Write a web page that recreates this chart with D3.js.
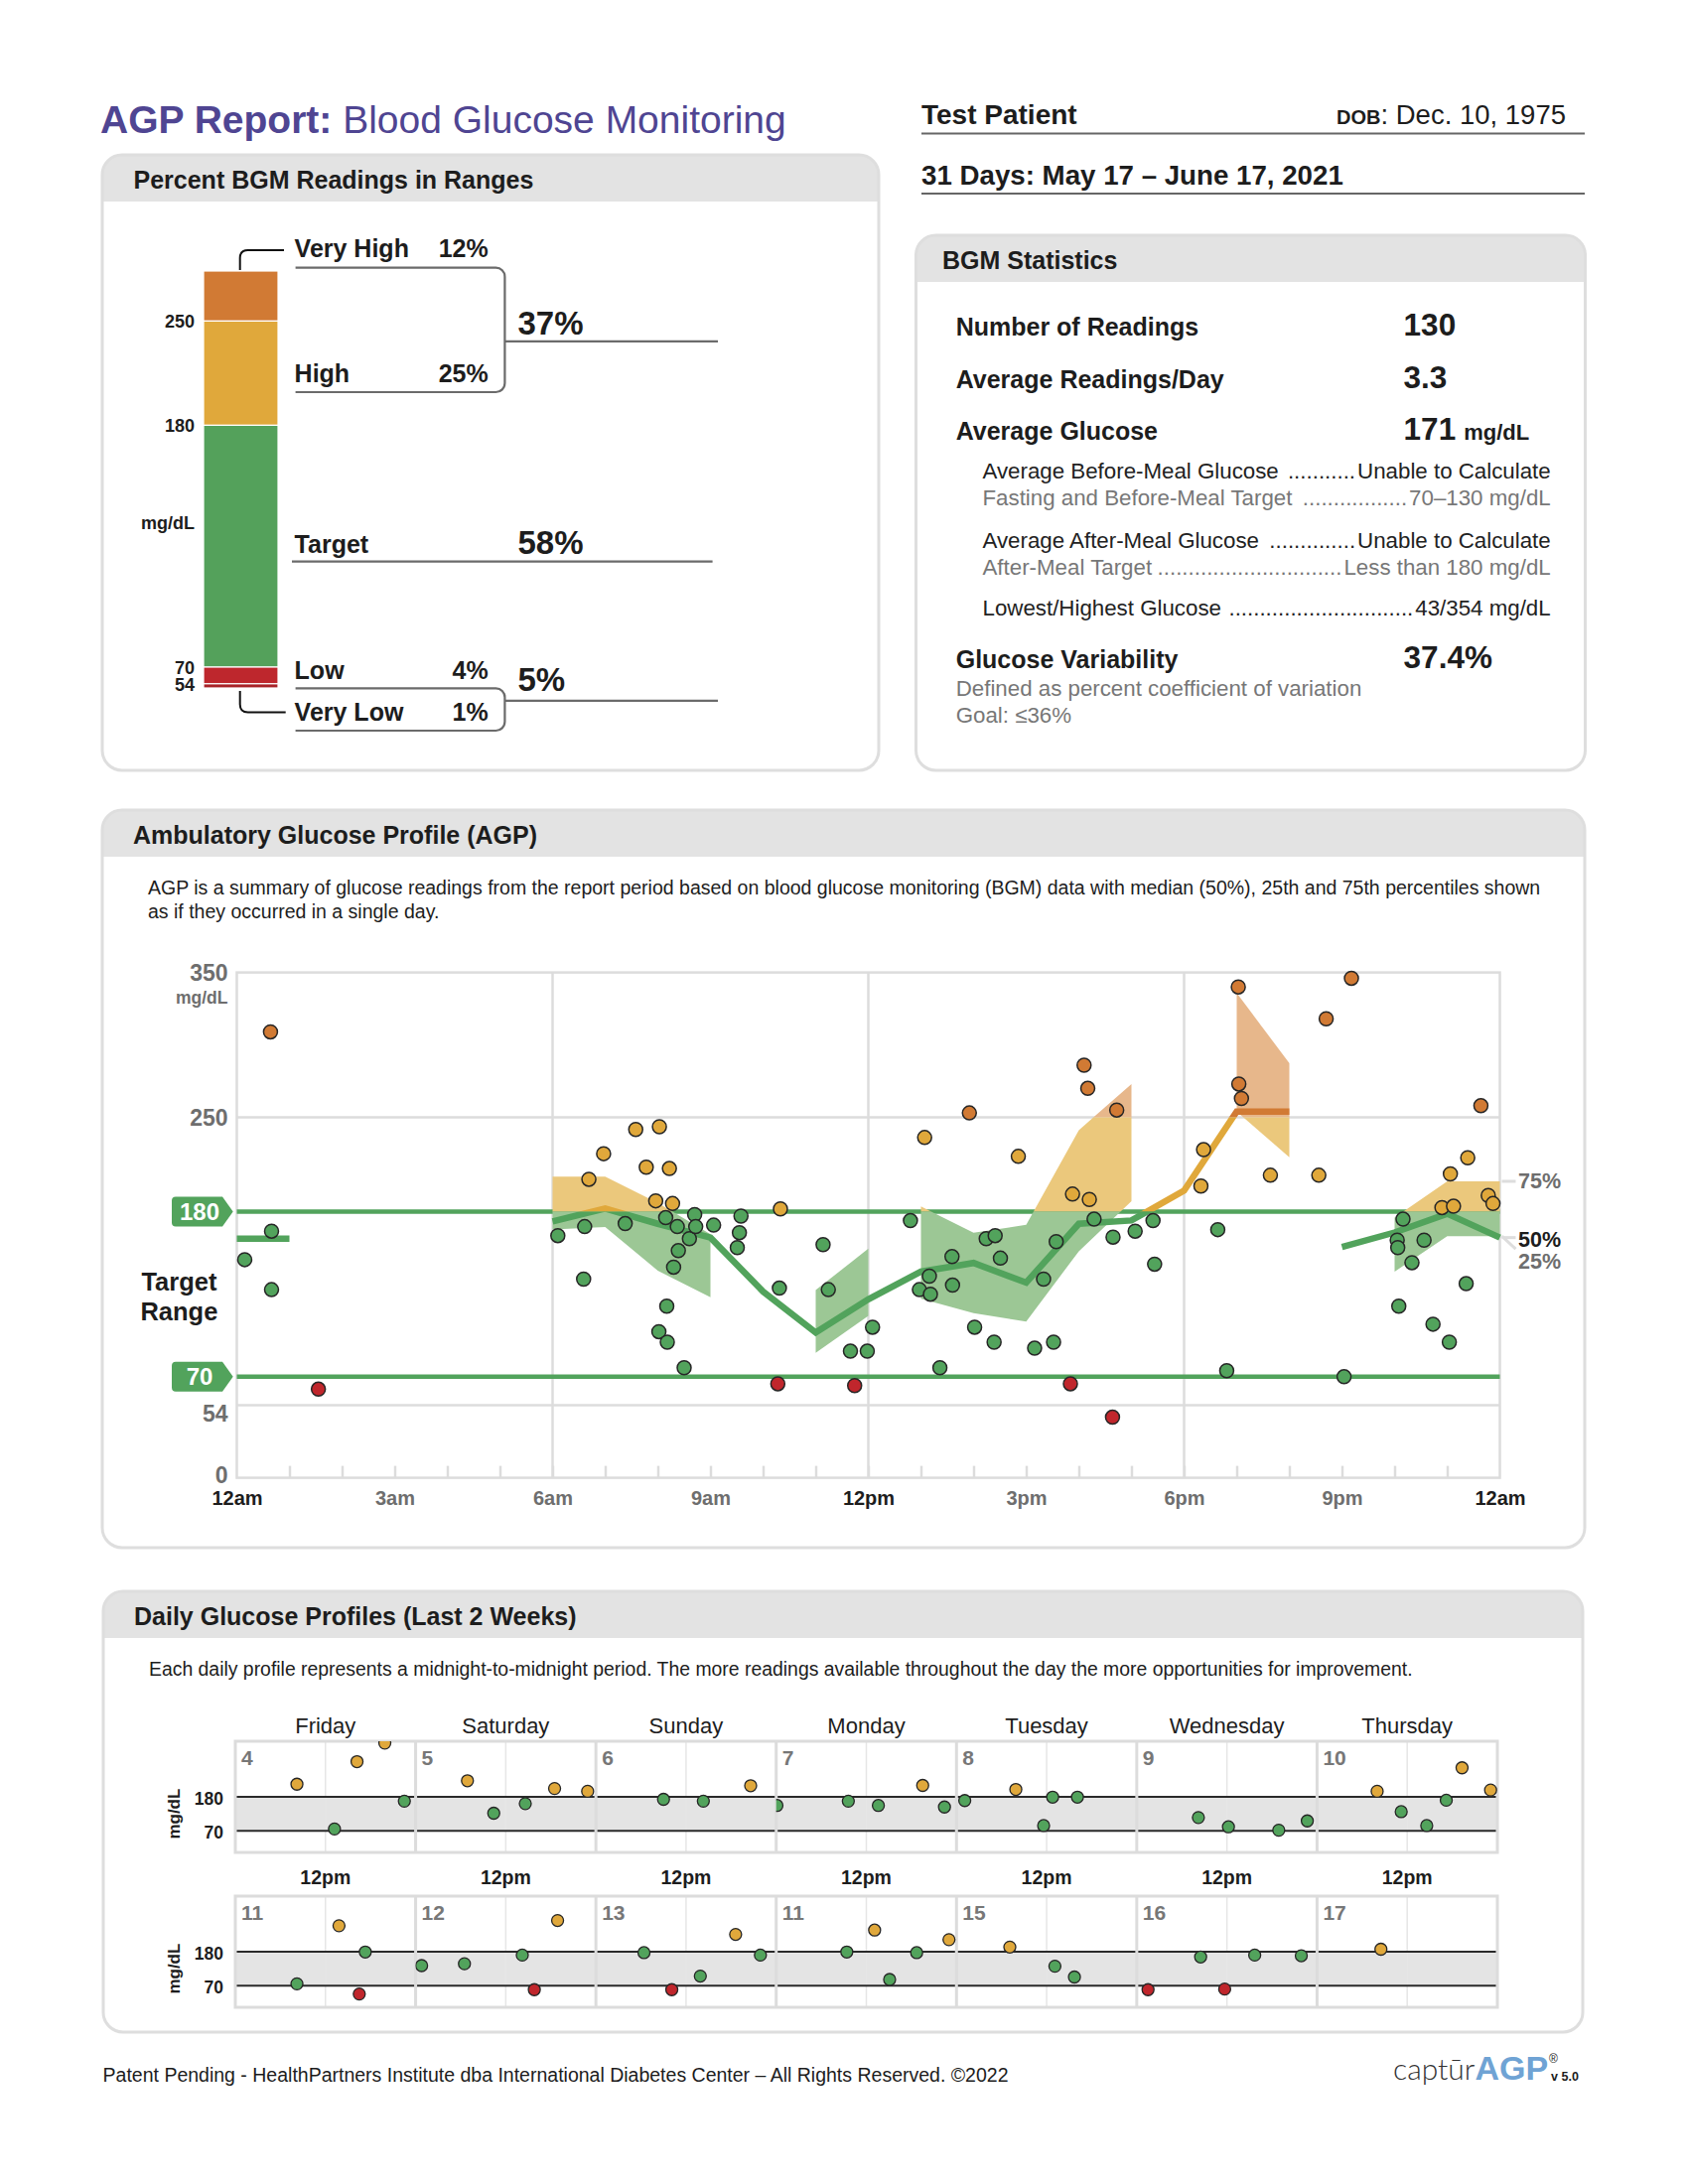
<!DOCTYPE html>
<html>
<head>
<meta charset="utf-8">
<script src="https://cdn.jsdelivr.net/npm/d3@7"></script>
<style>
  body { margin: 0; background: #fff; }
  svg { display: block; }
</style>
</head>
<body>
<script>
// ---------- data ----------
const rangeNames = ['Very High', 'High', 'Target', 'Low', 'Very Low'];
const rangePercents = [12, 25, 58, 4, 1];
const rangeLimits = ['250', '180', '70', '54'];

const statLabels = ['Number of Readings', 'Average Readings/Day', 'Average Glucose'];
const statValues = ['130', '3.3', '171'];
const detailLabels = ['Average Before-Meal Glucose', 'Fasting and Before-Meal Target', 'Average After-Meal Glucose', 'After-Meal Target', 'Lowest/Highest Glucose'];
const detailValues = ['Unable to Calculate', '70\u2013130 mg/dL', 'Unable to Calculate', 'Less than 180 mg/dL', '43/354 mg/dL'];
const variability = '37.4%';

// AGP: readings as if in one day (hour of day, mg/dL)
const agpTime = [0.64, 0.15, 0.66, 0.66, 1.55, 6.10, 6.59, 6.61, 6.69, 6.97, 7.38, 7.58, 7.78, 7.96, 8.03, 8.22, 8.28, 8.15, 8.37, 8.60,
  8.39, 8.30, 8.17, 8.02, 8.18, 8.50, 8.70, 8.72, 9.06, 9.58, 9.55, 9.51, 10.33, 10.31, 10.28, 11.14, 11.24, 11.74, 11.66, 11.98,
  12.08, 13.07, 13.92, 12.80, 13.16, 12.97, 13.18, 13.59, 13.60, 14.24, 14.41, 14.51, 14.02, 14.39, 13.36, 14.85, 15.33, 15.57, 15.16, 15.52,
  15.84, 16.10, 16.17, 16.72, 15.88, 16.20, 16.29, 16.65, 17.07, 17.41, 17.44, 16.64, 19.03, 21.18, 20.70, 19.04, 19.09, 23.64, 18.37, 18.32,
  19.64, 20.56, 23.39, 23.06, 23.78, 23.87, 22.90, 23.12, 18.64, 18.81, 21.04, 22.16, 22.05, 22.06, 22.56, 22.33, 23.36, 22.08, 22.73, 23.04];
const agpGlucose = [309, 148, 167, 128, 63, 164, 135, 170, 204, 223, 172, 241, 213, 188, 243, 212, 186, 176, 170, 162,
  154, 143, 117, 100, 93, 76, 178, 170, 171, 177, 166, 156, 182, 129, 66, 158, 128, 65, 87, 87,
  103, 235, 253, 174, 137, 128, 125, 150, 131, 162, 164, 149, 103, 93, 76, 221, 135, 160, 89, 93,
  66, 286, 270, 255, 193, 189, 175, 163, 167, 174, 145, 45, 340, 346, 318, 273, 263, 258, 226, 199,
  207, 207, 220, 208, 192, 186, 183, 184, 168, 74, 70, 175, 161, 156, 161, 146, 132, 117, 105, 93];

// hourly percentiles (index = hour 0..24), drawn over the listed hour spans
const medianValues = [162, 162, null, null, null, null, 173.5, 182.3, 171.9, 162.7, 126.7, 99.5, 121.6, 140, 145.8, 132.7, 171.9, 174.1, 195.6, 254, 254, 156.5, 166.1, 178.6, 162.7];
const p75Values = [null, null, null, null, null, null, 206, 206, 186.5, 164.9, null, 127.7, 155.3, 183.8, 165.9, 171.2, 240.5, 273, null, 335.9, 287.3, null, 176, 202.5, 202.5];
const p25Values = [null, null, null, null, null, null, 168.1, 169.7, 140.7, 122.9, null, 85.9, 110.6, 121.9, 112.3, 106.8, 153.6, 187.7, null, 254, 220.3, null, 140, 163.7, 163.7];
const medianSpans = [[0, 1], [6, 20], [21, 24]];
const bandSpans = [[6, 9], [11, 12], [13, 17], [19, 20], [22, 24]];
const hourLabels = ['12am', '3am', '6am', '9am', '12pm', '3pm', '6pm', '9pm', '12am'];

// daily profiles
const weekdayNames = ['Friday', 'Saturday', 'Sunday', 'Monday', 'Tuesday', 'Wednesday', 'Thursday'];
const dayNumbers = ['4', '5', '6', '7', '8', '9', '10', '11', '12', '13', '11', '15', '16', '17'];
const dailyDay = [0, 0, 0, 0, 0, 1, 1, 1, 1, 1, 2, 2, 2, 3, 3, 3, 3, 3, 4, 4, 4, 4, 4, 5, 5, 5, 5, 6, 6, 6, 6, 6, 6,
  7, 7, 7, 7, 8, 8, 8, 8, 8, 9, 9, 9, 9, 9, 10, 10, 10, 10, 10, 11, 11, 11, 12, 12, 12, 12, 12, 13];
const dailyTime = [8.2, 13.2, 16.2, 19.9, 22.5, 6.9, 10.4, 14.6, 18.5, 22.9, 9.0, 14.3, 20.6, 0.1, 9.6, 13.6, 19.5, 22.4,
  1.1, 7.9, 11.6, 12.8, 16.1, 8.2, 12.2, 18.9, 22.7, 8.0, 11.2, 14.6, 17.2, 19.3, 23.1,
  8.2, 13.8, 17.3, 16.5, 0.8, 6.5, 14.2, 15.8, 18.9, 6.4, 10.1, 13.9, 18.6, 21.9, 9.4, 13.1, 15.1, 18.7, 23.0,
  7.1, 13.1, 15.7, 1.5, 8.5, 11.7, 15.7, 21.9, 8.5];
const dailyGlucose = [221, 76, 294, 354, 166, 232, 127, 158, 207, 198, 172, 166, 216, 152, 166, 152, 217, 147,
  168, 204, 87, 179, 179, 113, 83, 72, 102, 198, 132, 87, 169, 274, 202,
  76, 264, 179, 43, 135, 141, 169, 57, 281, 177, 57, 101, 236, 169, 179, 250, 90, 177, 219,
  195, 133, 98, 57, 163, 59, 169, 167, 188];

// ---------- colours ----------
const green = '#52a35c', yellow = '#e0a83b', orange = '#d17a34', red = '#c0262c';
const rangeColors = [orange, yellow, '#54a15b', '#be272d', '#a82228'];
const bandColors = ['#e7b78b', '#ebc87c', '#9cc795'];
const ink = '#1d1d1d', grey = '#6e6e6e', rule = '#dcdcdc';

const svg = d3.select('body').append('svg')
  .attr('width', 1700).attr('height', 2200)
  .attr('font-family', '"Liberation Sans", Arial, Helvetica, sans-serif');
svg.append('rect').attr('width', 1700).attr('height', 2200).attr('fill', '#fff');
const defs = svg.append('defs');

function card(x, y, w, h, title, tx) {
  const r = 20, hh = 47;
  svg.append('rect').attr('x', x).attr('y', y).attr('width', w).attr('height', h).attr('rx', r).attr('fill', '#fff');
  svg.append('path')
    .attr('d', `M${x},${y + hh}V${y + r}A${r},${r} 0 0 1 ${x + r},${y}H${x + w - r}A${r},${r} 0 0 1 ${x + w},${y + r}V${y + hh}Z`)
    .attr('fill', '#e3e3e3');
  svg.append('rect').attr('x', x).attr('y', y).attr('width', w).attr('height', h).attr('rx', r)
    .attr('fill', 'none').attr('stroke', '#dedede').attr('stroke-width', 3);
  svg.append('text').attr('x', x + tx).attr('y', y + 34)
    .attr('font-size', 25).attr('font-weight', 'bold').attr('fill', ink).text(title);
}

// ---------- header ----------
const title = svg.append('text').attr('x', 101).attr('y', 133.5).attr('font-size', 39).attr('fill', '#4f4592');
title.append('tspan').attr('font-weight', 'bold').text('AGP Report: ');
title.append('tspan').text('Blood Glucose Monitoring');

svg.append('text').attr('x', 928).attr('y', 124.5).attr('font-size', 28).attr('font-weight', 'bold').attr('fill', ink).text('Test Patient');
const dob = svg.append('text').attr('x', 1577).attr('y', 124.5).attr('text-anchor', 'end').attr('font-size', 27.5).attr('fill', ink);
dob.append('tspan').attr('font-size', 20).attr('font-weight', 'bold').text('DOB');
dob.append('tspan').text(': Dec. 10, 1975');
svg.append('line').attr('x1', 928).attr('x2', 1596).attr('y1', 134.5).attr('y2', 134.5).attr('stroke', '#666').attr('stroke-width', 2);
svg.append('text').attr('x', 928).attr('y', 185.5).attr('font-size', 27.7).attr('font-weight', 'bold').attr('fill', ink)
  .text('31 Days: May 17 \u2013 June 17, 2021');
svg.append('line').attr('x1', 928).attr('x2', 1596).attr('y1', 195).attr('y2', 195).attr('stroke', '#666').attr('stroke-width', 2);

// ---------- percent in ranges ----------
card(103, 156, 782, 620, 'Percent BGM Readings in Ranges', 31.5);
const barY = d3.scaleLinear().domain([0, 100]).range([693, 273]);
let acc = 100;
const segs = rangePercents.map(p => { const s = { top: acc, bottom: acc - p }; acc -= p; return s; });
svg.append('g').selectAll('rect').data(segs).join('rect')
  .attr('x', 205).attr('width', 75)
  .attr('y', d => barY(d.top)).attr('height', d => barY(d.bottom) - barY(d.top))
  .attr('fill', (d, i) => rangeColors[i]).attr('stroke', '#fff').attr('stroke-width', 1.2);
svg.append('g').attr('font-size', 18).attr('font-weight', 'bold').attr('fill', ink).attr('text-anchor', 'end')
  .selectAll('text').data(rangeLimits).join('text')
  .attr('x', 196).attr('y', (d, i) => barY(segs[i].bottom) + 7).text(d => d);
svg.append('text').attr('x', 196).attr('y', 533).attr('text-anchor', 'end').attr('font-size', 18).attr('font-weight', 'bold')
  .attr('fill', ink).text('mg/dL');

const labelBase = [258.6, 384.5, 556.8, 683.5, 725.5];
const labelRule = [269.7, 395, 565.7, 693.3, 736];
const lab = svg.append('g').attr('font-size', 25).attr('font-weight', 'bold').attr('fill', ink);
rangeNames.forEach((n, i) => {
  lab.append('text').attr('x', 296.6).attr('y', labelBase[i]).text(n);
  if (i !== 2) lab.append('text').attr('x', 491.7).attr('y', labelBase[i]).attr('text-anchor', 'end').text(rangePercents[i] + '%');
});
const rl = svg.append('g').attr('fill', 'none').attr('stroke', '#6b6b6b').attr('stroke-width', 2.2);
function bracket(y1, y2) {
  const xr = 508.4, r = 9, xl = 297.6;
  return `M${xl},${y1}H${xr - r}A${r},${r} 0 0 1 ${xr},${y1 + r}V${y2 - r}A${r},${r} 0 0 1 ${xr - r},${y2}H${xl}`;
}
rl.append('path').attr('d', bracket(labelRule[0], labelRule[1]));
rl.append('path').attr('d', bracket(labelRule[3], labelRule[4]));
rl.append('line').attr('x1', 508.4).attr('x2', 723).attr('y1', 343.8).attr('y2', 343.8);
rl.append('line').attr('x1', 294).attr('x2', 717.6).attr('y1', labelRule[2]).attr('y2', labelRule[2]);
rl.append('line').attr('x1', 508.4).attr('x2', 723).attr('y1', 705.9).attr('y2', 705.9);
const big = svg.append('g').attr('font-size', 33).attr('font-weight', 'bold').attr('fill', ink);
big.append('text').attr('x', 521.5).attr('y', 336.7).text((rangePercents[0] + rangePercents[1]) + '%');
big.append('text').attr('x', 521.5).attr('y', 557.7).text(rangePercents[2] + '%');
big.append('text').attr('x', 521.5).attr('y', 696).text((rangePercents[3] + rangePercents[4]) + '%');
const conn = svg.append('g').attr('fill', 'none').attr('stroke', '#111').attr('stroke-width', 2);
conn.append('path').attr('d', `M241.7,${barY(100) - 1}V260Q241.7,252 249.7,252H286`);
conn.append('path').attr('d', `M241.7,${barY(0) + 3}V709.5Q241.7,717.5 249.7,717.5H287.7`);

// ---------- BGM statistics ----------
card(922.5, 237, 674, 539, 'BGM Statistics', 26.5);
const statBase = [338, 391, 442.5];
statLabels.forEach((s, i) => {
  svg.append('text').attr('x', 962.7).attr('y', statBase[i]).attr('font-size', 25).attr('font-weight', 'bold').attr('fill', ink).text(s);
  const v = svg.append('text').attr('x', 1413.6).attr('y', statBase[i]).attr('font-size', 31.5).attr('font-weight', 'bold').attr('fill', ink);
  v.append('tspan').text(statValues[i]);
  if (i === 2) v.append('tspan').attr('font-size', 22).attr('dx', 8).text('mg/dL');
});
function leader(y, label, value, color) {
  const g = svg.append('g').attr('font-size', 22.3).attr('fill', color);
  const a = g.append('text').attr('x', 989.5).attr('y', y).text(label);
  const b = g.append('text').attr('x', 1561.7).attr('y', y).attr('text-anchor', 'end').text(value);
  const x0 = 989.5 + a.node().getComputedTextLength() + 5;
  const x1 = 1561.7 - b.node().getComputedTextLength() - 2;
  const probe = g.append('text').text('..........');
  const dw = probe.node().getComputedTextLength() / 10;
  probe.remove();
  g.append('text').attr('x', x1).attr('y', y).attr('text-anchor', 'end')
    .text('.'.repeat(Math.max(0, Math.floor((x1 - x0) / dw))));
}
const detailBase = [481.8, 509.4, 551.8, 579, 620];
detailLabels.forEach((d, i) => leader(detailBase[i], d, detailValues[i], i === 1 || i === 3 ? '#777' : '#222'));
svg.append('text').attr('x', 962.7).attr('y', 672.8).attr('font-size', 25).attr('font-weight', 'bold').attr('fill', ink).text('Glucose Variability');
svg.append('text').attr('x', 1413.6).attr('y', 672.8).attr('font-size', 31.5).attr('font-weight', 'bold').attr('fill', ink).text(variability);
svg.append('text').attr('x', 962.7).attr('y', 701.4).attr('font-size', 22.3).attr('fill', '#777').text('Defined as percent coefficient of variation');
svg.append('text').attr('x', 962.7).attr('y', 728.2).attr('font-size', 22.3).attr('fill', '#777').text('Goal: \u226436%');

// ---------- AGP ----------
card(103, 816, 1493, 743, 'Ambulatory Glucose Profile (AGP)', 31);
svg.append('text').attr('x', 149).attr('y', 901).attr('font-size', 19.5).attr('fill', ink)
  .text('AGP is a summary of glucose readings from the report period based on blood glucose monitoring (BGM) data with median (50%), 25th and 75th percentiles shown');
svg.append('text').attr('x', 149).attr('y', 925).attr('font-size', 19.5).attr('fill', ink).text('as if they occurred in a single day.');

const x = d3.scaleLinear().domain([0, 24]).range([238.5, 1510.5]);
const y = d3.scaleLinear().domain([0, 54, 70, 180, 250, 350]).range([1488.6, 1415.4, 1386.8, 1220.5, 1125.5, 979.6]);
const plot = svg.append('g');

plot.append('g').selectAll('line').data([250, 54]).join('line')
  .attr('x1', x(0)).attr('x2', x(24)).attr('y1', d => y(d)).attr('y2', d => y(d))
  .attr('stroke', rule).attr('stroke-width', 2.5);
plot.append('g').selectAll('line').data([6, 12, 18]).join('line')
  .attr('x1', d => x(d)).attr('x2', d => x(d)).attr('y1', y(350)).attr('y2', y(0))
  .attr('stroke', rule).attr('stroke-width', 2.5);
plot.append('g').attr('transform', `translate(0,${y(0)})`)
  .call(d3.axisTop(x).tickValues(d3.range(1, 24)).tickSize(12).tickFormat(''))
  .call(g => g.select('.domain').remove())
  .call(g => g.selectAll('line').attr('stroke', rule).attr('stroke-width', 2.5));
plot.append('rect').attr('x', x(0)).attr('y', y(350)).attr('width', x(24) - x(0)).attr('height', y(0) - y(350))
  .attr('fill', 'none').attr('stroke', rule).attr('stroke-width', 2.5);

plot.append('g').attr('transform', `translate(0,${y(0)})`)
  .call(d3.axisBottom(x).tickValues(d3.range(0, 25, 3)).tickSize(0).tickPadding(13).tickFormat((d, i) => hourLabels[i]))
  .call(g => g.select('.domain').remove())
  .call(g => g.selectAll('text').attr('font-family', null).attr('font-size', 20).attr('font-weight', 'bold')
    .attr('fill', d => d % 12 === 0 ? ink : grey));
plot.append('g').attr('transform', `translate(${x(0)},0)`)
  .call(d3.axisLeft(y).tickValues([0, 54, 250, 350]).tickSize(0).tickPadding(9))
  .call(g => g.select('.domain').remove())
  .call(g => g.selectAll('text').attr('font-family', null).attr('font-size', 23).attr('font-weight', 'bold').attr('fill', grey)
    .attr('dy', d => d === 54 ? '0.7em' : d === 0 ? '0.2em' : '0.35em'));
svg.append('text').attr('x', 229.4).attr('y', 1011).attr('text-anchor', 'end').attr('font-size', 17.5).attr('font-weight', 'bold')
  .attr('fill', grey).text('mg/dL');

// target lines and tags
plot.append('g').selectAll('line').data([180, 70]).join('line')
  .attr('x1', x(0)).attr('x2', x(24)).attr('y1', d => y(d)).attr('y2', d => y(d))
  .attr('stroke', green).attr('stroke-width', 4.5);
const tags = plot.append('g').selectAll('g').data([180, 70]).join('g');
tags.append('path').attr('fill', green)
  .attr('d', d => { const c = y(d); return `M177,${c - 15}H224L234.7,${c}L224,${c + 15}H177Q173,${c + 15} 173,${c + 11}V${c - 11}Q173,${c - 15} 177,${c - 15}Z`; });
tags.append('text').attr('x', 201).attr('y', d => y(d) + 8.5).attr('text-anchor', 'middle')
  .attr('font-size', 24).attr('font-weight', 'bold').attr('fill', '#fff').text(d => d);
svg.append('text').attr('x', 180.4).attr('y', 1299.5).attr('text-anchor', 'middle').attr('font-size', 25.5).attr('font-weight', 'bold').attr('fill', ink).text('Target');
svg.append('text').attr('x', 180.4).attr('y', 1330).attr('text-anchor', 'middle').attr('font-size', 25.5).attr('font-weight', 'bold').attr('fill', ink).text('Range');

// clip zones by glucose level
const zones = [[400, 250], [250, 180], [180, -20]];
zones.forEach((z, i) => {
  defs.append('clipPath').attr('id', 'zone' + i).append('rect')
    .attr('x', 0).attr('width', 1700).attr('y', y(z[0])).attr('height', y(z[1]) - y(z[0]));
});

const area = d3.area().x(h => x(h)).y0(h => y(p25Values[h])).y1(h => y(p75Values[h]));
zones.forEach((z, i) => {
  plot.append('g').attr('clip-path', `url(#zone${i})`).selectAll('path').data(bandSpans).join('path')
    .attr('d', s => area(d3.range(s[0], s[1] + 1))).attr('fill', bandColors[i]);
});
const medLine = d3.line().x(h => x(h)).y(h => y(medianValues[h]));
const lineColors = [orange, yellow, green];
zones.forEach((z, i) => {
  plot.append('g').attr('clip-path', `url(#zone${i})`).selectAll('path').data(medianSpans).join('path')
    .attr('d', s => medLine(d3.range(s[0], s[1] + 1))).attr('fill', 'none')
    .attr('stroke', lineColors[i]).attr('stroke-width', 6.5).attr('stroke-linejoin', 'miter');
});

const agpColor = v => v < 70 ? red : v <= 180 ? green : v <= 250 ? yellow : orange;
plot.append('g').selectAll('circle').data(agpTime).join('circle')
  .attr('cx', d => x(d)).attr('cy', (d, i) => y(agpGlucose[i])).attr('r', 7)
  .attr('fill', (d, i) => agpColor(agpGlucose[i])).attr('stroke', '#262626').attr('stroke-width', 1.5);

// percentile labels
const endY = [y(p75Values[24]), y(medianValues[24]), y(p25Values[24])];
const pl = svg.append('g').attr('stroke', '#dddddd').attr('stroke-width', 3);
pl.append('line').attr('x1', x(24) + 2).attr('x2', x(24) + 16).attr('y1', endY[0]).attr('y2', endY[0]);
pl.append('line').attr('x1', x(24) + 2).attr('x2', x(24) + 16).attr('y1', endY[1]).attr('y2', endY[1]);
pl.append('line').attr('x1', x(24) + 2).attr('x2', x(24) + 16).attr('y1', endY[2]).attr('y2', endY[2] + 13);
const pt = svg.append('g').attr('font-size', 21.5).attr('font-weight', 'bold');
pt.append('text').attr('x', 1529).attr('y', endY[0] + 7.5).attr('fill', grey).text('75%');
pt.append('text').attr('x', 1529).attr('y', endY[1] + 9.5).attr('fill', ink).text('50%');
pt.append('text').attr('x', 1529).attr('y', endY[1] + 31).attr('fill', grey).text('25%');

// ---------- daily profiles ----------
card(104, 1603, 1490, 444, 'Daily Glucose Profiles (Last 2 Weeks)', 31);
svg.append('text').attr('x', 150).attr('y', 1688).attr('font-size', 19.4).attr('fill', ink)
  .text('Each daily profile represents a midnight-to-midnight period. The more readings available throughout the day the more opportunities for improvement.');
const dx = d3.scaleLinear().domain([0, 7 * 24]).range([237, 1508]);
const rowTops = [1754, 1910];
svg.append('g').attr('font-size', 22).attr('fill', ink).attr('text-anchor', 'middle')
  .selectAll('text').data(weekdayNames).join('text')
  .attr('x', (d, i) => dx(i * 24 + 12)).attr('y', 1746).text(d => d);
svg.append('g').attr('font-size', 19.5).attr('font-weight', 'bold').attr('fill', ink).attr('text-anchor', 'middle')
  .selectAll('text').data(weekdayNames).join('text')
  .attr('x', (d, i) => dx(i * 24 + 12)).attr('y', 1898).text('12pm');

const dailyColor = v => v < 70 ? red : v <= 180 ? green : yellow;
rowTops.forEach((top, r) => {
  const dy = d3.scaleLinear().domain([0, 360]).range([top + 112, top]);
  const g = svg.append('g');
  g.append('rect').attr('x', dx(0)).attr('width', dx(168) - dx(0)).attr('y', dy(180)).attr('height', dy(70) - dy(180)).attr('fill', '#e4e4e4');
  g.append('g').selectAll('line').data(d3.range(7)).join('line')
    .attr('x1', d => dx(d * 24 + 12)).attr('x2', d => dx(d * 24 + 12)).attr('y1', top).attr('y2', top + 112)
    .attr('stroke', '#e6e6e6').attr('stroke-width', 1.5);
  g.append('g').selectAll('line').data([180, 70]).join('line')
    .attr('x1', dx(0)).attr('x2', dx(168)).attr('y1', d => dy(d)).attr('y2', d => dy(d))
    .attr('stroke', '#2a2a2a').attr('stroke-width', 2);
  g.append('g').selectAll('line').data(d3.range(1, 7)).join('line')
    .attr('x1', d => dx(d * 24)).attr('x2', d => dx(d * 24)).attr('y1', top).attr('y2', top + 112)
    .attr('stroke', '#dcdcdc').attr('stroke-width', 3);
  g.append('rect').attr('x', dx(0)).attr('width', dx(168) - dx(0)).attr('y', top).attr('height', 112)
    .attr('fill', 'none').attr('stroke', '#dcdcdc').attr('stroke-width', 3);
  g.append('g').attr('font-size', 21).attr('font-weight', 'bold').attr('fill', '#777')
    .selectAll('text').data(dayNumbers.slice(r * 7, r * 7 + 7)).join('text')
    .attr('x', (d, i) => dx(i * 24) + 6).attr('y', top + 23.5).text(d => d);
  g.append('g').attr('font-size', 17.5).attr('font-weight', 'bold').attr('fill', ink).attr('text-anchor', 'end')
    .selectAll('text').data([180, 70]).join('text')
    .attr('x', 225).attr('y', d => dy(d) + 8).text(d => d);
  g.append('text').attr('transform', `translate(181,${(dy(180) + dy(70)) / 2}) rotate(-90)`).attr('text-anchor', 'middle')
    .attr('font-size', 17).attr('font-weight', 'bold').attr('fill', ink).text('mg/dL');

  for (let c = 0; c < 7; c++) {
    const day = r * 7 + c;
    const id = 'day' + day;
    defs.append('clipPath').attr('id', id).append('rect')
      .attr('x', dx(c * 24)).attr('width', dx(24) - dx(0)).attr('y', top).attr('height', 112);
    const idx = d3.range(dailyDay.length).filter(i => dailyDay[i] === day);
    g.append('g').attr('clip-path', `url(#${id})`).selectAll('circle').data(idx).join('circle')
      .attr('cx', i => dx(c * 24 + dailyTime[i])).attr('cy', i => dy(dailyGlucose[i])).attr('r', 6)
      .attr('fill', i => dailyColor(dailyGlucose[i])).attr('stroke', '#262626').attr('stroke-width', 1.3);
  }
});

// ---------- footer ----------
svg.append('text').attr('x', 103.6).attr('y', 2097).attr('font-size', 19.5).attr('fill', ink)
  .text('Patent Pending - HealthPartners Institute dba International Diabetes Center \u2013 All Rights Reserved. \u00a92022');
const logo = svg.append('text').attr('x', 1403).attr('y', 2095);
logo.append('tspan').attr('font-family', 'Lato, "Open Sans", sans-serif').attr('font-weight', 300).attr('font-size', 30).attr('fill', '#333').text('capt\u016br');
logo.append('tspan').attr('font-weight', 'bold').attr('font-size', 34).attr('fill', '#6fa3d4').text('AGP');
const lb = logo.node().getBBox();
svg.append('text').attr('x', lb.x + lb.width + 1).attr('y', 2078).attr('font-size', 12).attr('fill', ink).text('\u00ae');
svg.append('text').attr('x', lb.x + lb.width + 3).attr('y', 2096).attr('font-size', 12.5).attr('font-weight', 'bold').attr('fill', ink).text('v 5.0');
</script>
</body>
</html>
